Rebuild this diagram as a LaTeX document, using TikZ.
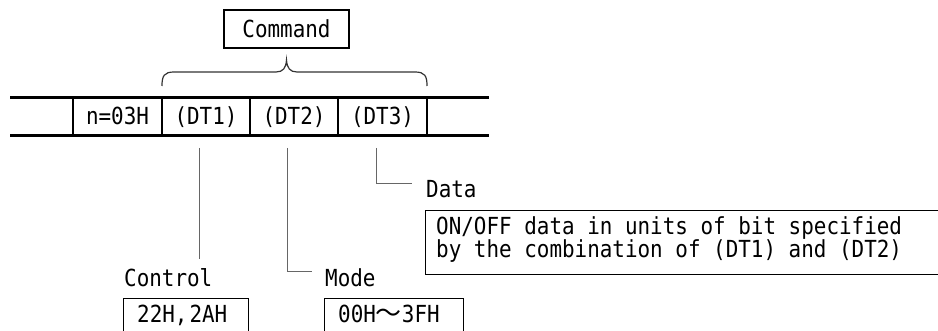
\documentclass[tikz,border=0pt]{standalone}
\usepackage{fontspec}
\newfontfamily\mono{DejaVu Sans Mono}[FakeStretch=0.89]
\newfontfamily\cjk{Noto Sans CJK JP}
\begin{document}
\begin{tikzpicture}[x=1pt,y=-1pt,
  txt/.style={inner sep=0pt, font=\mono\fontsize{23.5}{22.5}\selectfont},
  cellbox/.style={txt, draw, line width=1.3pt, minimum width=#1, minimum height=38pt, text height=17pt, text depth=0pt},
  framebar/.style={line width=2.2pt},
  leader/.style={draw=black!60, line width=1pt},
  plainbox/.style={draw, line width=1pt, inner sep=0pt, anchor=north west},
  bracestyle/.style={draw=black!80, line width=1.2pt}]
\useasboundingbox (0,0) rectangle (938,331);
% frame cells
\node[cellbox=89pt] (c1) at (117.5,116.5) {n=03H};
\node[cellbox=88pt] (c2) at (206,116.5) {(DT1)};
\node[cellbox=88pt] (c3) at (294,116.5) {(DT2)};
\node[cellbox=89pt] (c4) at (382.5,116.5) {(DT3)};
\coordinate (fl) at (10,97.5);
\coordinate (fr) at (489,97.5);
\coordinate (bl) at (10,135.5);
\coordinate (br) at (489,135.5);
\draw[framebar] (fl) -- (fr) (bl) -- (br);
% command box and brace
\node[cellbox=125pt] (cmd) at (286.5,29) {Command};
\coordinate (tip) at (286.5,60);
\draw[bracestyle] (162,86) .. controls (162,76) and (164,72) .. (174,72) -- (276,72)
  .. controls (283,72) and (286,68) .. (tip)
  .. controls (287,68) and (290,72) .. (297,72) -- (415,72)
  .. controls (425,72) and (427,76) .. (427,86);
% leaders
\coordinate (l1a) at (199,148); \coordinate (l1b) at (199,259);
\coordinate (l2a) at (287,148); \coordinate (l2b) at (287,272); \coordinate (l2c) at (312,272);
\coordinate (l3a) at (376,148); \coordinate (l3b) at (376,184); \coordinate (l3c) at (412,184);
\draw[leader] (l1a) -- (l1b);
\draw[leader] (l2a) -- (l2b) -- (l2c);
\draw[leader] (l3a) -- (l3b) -- (l3c);
% labels
\node[txt, anchor=base west] (control) at (124,287) {Control};
\node[txt, anchor=base west] (mode) at (325,287) {Mode};
\node[txt, anchor=base west] (data) at (426,198) {Data};
% bottom boxes
\node[plainbox, minimum width=125pt, minimum height=50pt] (b1) at (123,298) {};
\node[txt, anchor=base west] (b1t) at (137,323) {22H,\kern2pt 2AH};
\node[plainbox, minimum width=139pt, minimum height=50pt] (b2) at (324,298) {};
\node[txt, anchor=base west] (b2t) at (338,323) {00H{\cjk\fontsize{26}{26}\selectfont ～}3FH};
% data box (open to the right)
\draw[line width=1pt] (945,210.5) -- (425.5,210.5) -- (425.5,274.5) -- (945,274.5);
\node[txt, anchor=base west] (d1) at (436,234.5) {ON/OFF data in units of bit specified};
\node[txt, anchor=base west] (d2) at (436,258) {by the combination of (DT1) and (DT2)};
\end{tikzpicture}
\end{document}
